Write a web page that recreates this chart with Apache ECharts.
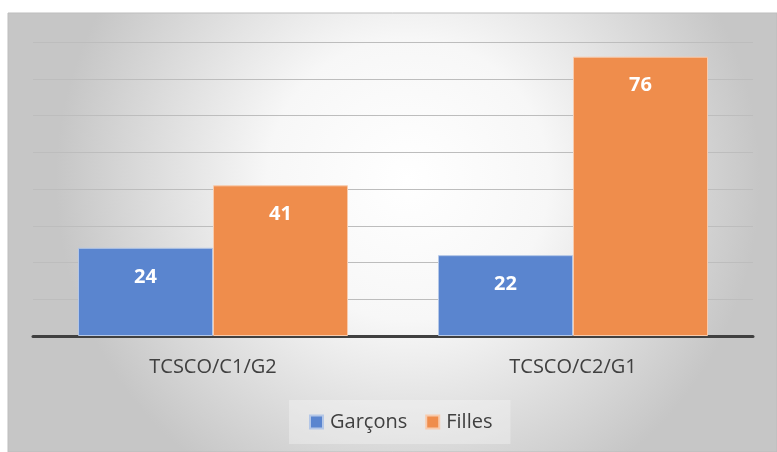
<!DOCTYPE html>
<html>
<head>
<meta charset="utf-8">
<script src="https://cdn.jsdelivr.net/npm/echarts@6/dist/echarts.min.js"></script>
<style>
  html, body { margin: 0; padding: 0; background: #fff; }
</style>
</head>
<body>
<div id="chart" style="width: 777px; height: 452px;"></div>
<script>
const categories = ['TCSCO/C1/G2', 'TCSCO/C2/G1'];
const garcons = [24, 22];
const filles = [41, 76];
const seriesNames = ['Garçons', 'Filles'];

const myChart = echarts.init(document.getElementById('chart'));

const labelStyle = {
  show: true,
  position: 'insideTop',
  distance: 19,
  color: '#fff',
  fontSize: 20,
  fontWeight: 'bold',
  fontFamily: 'Open Sans'
};

myChart.setOption({
  animation: false,
  color: ['#4472c4', '#ed7d31'],
  graphic: [{
    type: 'rect',
    z: -10,
    shape: {x: 8, y: 13, width: 769, height: 439},
    style: {
      fill: new echarts.graphic.RadialGradient(0.52, 0.38, 0.8, [
        {offset: 0, color: '#ffffff'},
        {offset: 0.4, color: '#f7f7f7'},
        {offset: 1, color: '#c6c6c6'}
      ]),
      stroke: '#bdbdbd',
      lineWidth: 1
    }
  }],
  grid: {left: 33, right: 24, top: 42, bottom: 116},
  legend: {
    data: seriesNames,
    bottom: 8,
    left: 289,
    icon: 'rect',
    itemWidth: 13,
    itemHeight: 13,
    itemGap: 18,
    padding: [12, 18, 12, 20],
    backgroundColor: 'rgba(250,250,250,0.35)',
    textStyle: {fontSize: 20, color: '#404040', fontFamily: 'Open Sans', padding: [0, 0, 0, 2]}
  },
  xAxis: {
    type: 'category',
    data: categories,
    axisLine: {lineStyle: {color: '#404040', width: 3}},
    axisTick: {show: false},
    axisLabel: {fontSize: 20, color: '#404040', margin: 21, fontFamily: 'Open Sans'}
  },
  yAxis: {
    type: 'value',
    min: 0,
    max: 80,
    interval: 10,
    axisLabel: {show: false},
    axisLine: {show: false},
    axisTick: {show: false},
    splitLine: {lineStyle: {color: '#bdbdbd', width: 1}}
  },
  series: [
    {
      name: seriesNames[0],
      type: 'bar',
      data: garcons,
      barGap: '0%',
      barCategoryGap: '25%',
      itemStyle: {color: '#5a85cf', borderColor: '#b4c7e7', borderWidth: 1},
      label: labelStyle
    },
    {
      name: seriesNames[1],
      type: 'bar',
      data: filles,
      barGap: '0%',
      barCategoryGap: '25%',
      itemStyle: {color: '#ef8d4c', borderColor: '#f8cbad', borderWidth: 1},
      label: labelStyle
    }
  ]
});
</script>
</body>
</html>
